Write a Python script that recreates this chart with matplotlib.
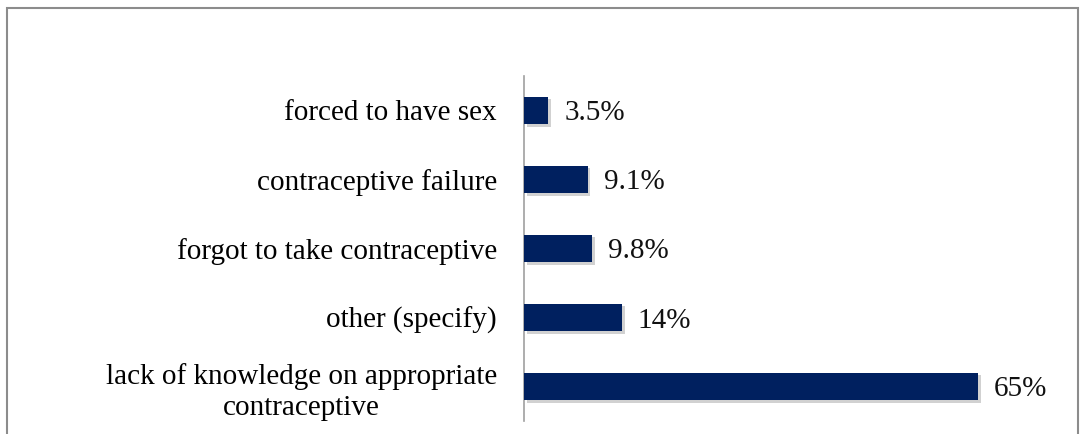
import matplotlib
matplotlib.use("Agg")
import matplotlib.pyplot as plt
from matplotlib.patches import Rectangle
import matplotlib.patheffects as pe
import matplotlib.transforms as mtransforms

categories = ["forced to have sex", "contraceptive failure", "forgot to take contraceptive",
              "other (specify)", "lack of knowledge on appropriate\ncontraceptive"]
values = [3.5, 9.1, 9.8, 14, 65]
value_labels = ["3.5%", "9.1%", "9.8%", "14%", "65%"]

plt.rcParams['font.family'] = ['Liberation Serif', 'DejaVu Serif']

W, H = 1084, 434
fig = plt.figure(figsize=(W/100, H/100), dpi=100)

# outer border
fig.add_artist(Rectangle((7/W, -0.1), (1078-7)/W, (H-8)/H + 0.1, transform=fig.transFigure,
                         fill=False, edgecolor='#8c8c8c', linewidth=1.5))

ax_left, ax_right = 524, 1048
ax_top, ax_bottom = 76, 421
ax = fig.add_axes([ax_left/W, 1 - ax_bottom/H, (ax_right-ax_left)/W, (ax_bottom-ax_top)/H])

y = list(range(len(categories)))
bars = ax.barh(y, values, height=0.4, color='#00205F', zorder=3)
for b in bars:
    b.set_path_effects([pe.SimplePatchShadow(offset=(2, -2), shadow_rgbFace='#000000', alpha=0.18),
                        pe.Normal()])
ax.set_xlim(0, 75)
ax.set_ylim(len(categories) - 0.5, -0.5)
ax.set_yticks(y)
ax.set_yticklabels(categories, fontsize=21)
shift = mtransforms.ScaledTranslation(0, -2/100, fig.dpi_scale_trans)
for lab in ax.get_yticklabels():
    lab.set_multialignment('center')
    lab.set_linespacing(1.25)
    lab.set_transform(lab.get_transform() + shift)
ax.tick_params(axis='y', length=0, pad=19.5)
ax.set_xticks([])
for s in ['top', 'right', 'bottom']:
    ax.spines[s].set_visible(False)
ax.spines['left'].set_color('#a0a0a0')
ax.spines['left'].set_linewidth(1.2)

for yi, v, t in zip(y, values, value_labels):
    ax.annotate(t, xy=(v, yi), xytext=(16, -3), textcoords='offset pixels',
                va='center', ha='left', fontsize=21, color='#111111')

fig.savefig("out.png", dpi=100)
